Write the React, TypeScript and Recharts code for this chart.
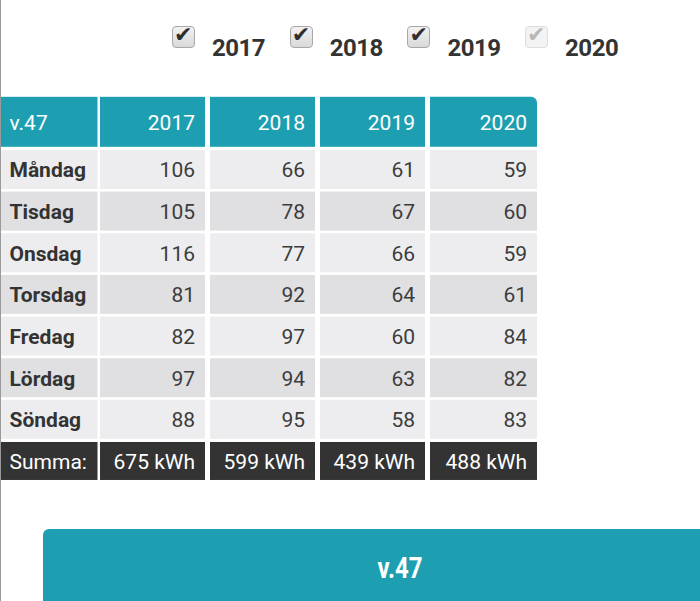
import React from 'react';
import { ScatterChart, Scatter, XAxis, YAxis, Legend } from 'recharts';

const WEEK = 'v.47';
const YEARS = ['2017', '2018', '2019', '2020'];
const YEAR_ENABLED = [true, true, true, false];
const DAYS = ['Måndag', 'Tisdag', 'Onsdag', 'Torsdag', 'Fredag', 'Lördag', 'Söndag'];
const V2017 = [106, 105, 116, 81, 82, 97, 88];
const V2018 = [66, 78, 77, 92, 97, 94, 95];
const V2019 = [61, 67, 66, 64, 60, 63, 58];
const V2020 = [59, 60, 59, 61, 84, 82, 83];
const SUM_LABEL = 'Summa:';
const UNIT = 'kWh';

const SERIES_VALUES = [V2017, V2018, V2019, V2020];

const TEAL = '#1e9fb1';
const DARK = '#333333';
const ROW_LIGHT = '#ededef';
const ROW_DARK = '#e0e0e2';
const FONT = 'Roboto, "Open Sans", sans-serif';

const COLS = ['label', ...YEARS];

const headerData = COLS.map((c, i) => ({
  col: c,
  row: 'head',
  kind: 'head',
  text: c === 'label' ? WEEK : c,
  last: i === COLS.length - 1,
}));

const labelData = [
  ...DAYS.map((d, i) => ({ col: 'label', row: d, kind: 'day', text: d, idx: i })),
  { col: 'label', row: 'sum', kind: 'sum', text: SUM_LABEL, idx: 0 },
];

const yearData = YEARS.map((y, yi) => {
  const vals = SERIES_VALUES[yi];
  const total = vals.reduce((a, b) => a + b, 0);
  return [
    ...DAYS.map((d, i) => ({ col: y, row: d, kind: 'day', text: String(vals[i]), idx: i })),
    { col: y, row: 'sum', kind: 'sum', text: `${total} ${UNIT}`, idx: 0 },
  ];
});

function CellShape(props: any) {
  const { cx, cy, payload: p } = props;
  if (cx == null || cy == null || !p) return null;
  const isLabel = p.col === 'label';
  const isLast = p.col === YEARS[YEARS.length - 1];
  const w = isLabel ? 97 : isLast ? 107 : 105;
  const x0 = isLabel ? cx - 42 : cx - 52.5;
  let y0: number, h: number, fill: string, color: string;
  let weight = 400;
  if (p.kind === 'head') {
    y0 = cy - 31; h = 50; fill = TEAL; color = '#ffffff';
  } else if (p.kind === 'sum') {
    y0 = cy - 19; h = 38; fill = DARK; color = '#ffffff';
  } else {
    y0 = cy - 19.5; h = 39; fill = p.idx % 2 === 0 ? ROW_LIGHT : ROW_DARK;
    color = isLabel ? '#333333' : '#3c3c3c';
    if (isLabel) weight = 700;
  }
  const textY = p.kind === 'head' ? cy - 5 : cy + 1;
  const tx = isLabel ? x0 + 9 : x0 + w - 10;
  const bg = p.last ? (
    <path d={`M${x0},${y0} H${x0 + w - 6} A6,6 0 0 1 ${x0 + w},${y0 + 6} V${y0 + h} H${x0} Z`} fill={fill} />
  ) : (
    <rect x={x0} y={y0} width={w} height={h} fill={fill} />
  );
  return (
    <g>
      {bg}
      <text
        x={tx}
        y={textY}
        textAnchor={isLabel ? 'start' : 'end'}
        dominantBaseline="central"
        fill={color}
        fontSize={21}
        fontWeight={weight}
        fontFamily={FONT}
      >
        {p.text}
      </text>
    </g>
  );
}

function CheckLegend(props: any) {
  const payload = (props.payload || []).filter((e: any) => YEARS.includes(String(e.value)));
  return (
    <div style={{ position: 'relative', width: 700, height: 60 }}>
      {payload.map((e: any) => {
        const i = YEARS.indexOf(String(e.value));
        const enabled = YEAR_ENABLED[i];
        const left = 172 + i * 117.7;
        return (
          <div key={e.value}>
            <div
              style={{
                position: 'absolute',
                left,
                top: 26,
                width: 21,
                height: 20,
                border: `1px solid ${enabled ? '#a8a8a8' : '#dddddd'}`,
                borderRadius: 4,
                background: enabled ? 'linear-gradient(#f2f2f2, #d9d9d9)' : '#f3f3f3',
                boxSizing: 'content-box',
              }}
            >
              <span
                style={{
                  position: 'absolute',
                  left: 1,
                  top: -5,
                  fontSize: 22,
                  fontFamily: '"DejaVu Sans", sans-serif',
                  color: enabled ? '#2e2e2e' : '#b8b8b8',
                  lineHeight: '26px',
                }}
              >
                ✔
              </span>
            </div>
            <span
              style={{
                position: 'absolute',
                left: left + 40,
                top: 33,
                fontSize: 24,
                fontWeight: 700,
                fontFamily: FONT,
                color: '#333333',
                lineHeight: '30px',
                letterSpacing: -0.5,
              }}
            >
              {e.value}
            </span>
          </div>
        );
      })}
    </div>
  );
}

export default function App() {
  return (
    <div style={{ position: 'relative', width: 700, height: 601, overflow: 'hidden', background: '#ffffff' }}>
      <style>{'body{margin:0;}'}</style>
      <div style={{ position: 'absolute', left: 0, top: 0, width: 1, height: 601, background: '#9a9a9a', zIndex: 2 }} />
      <ScatterChart width={700} height={601} margin={{ top: 47, right: 162.5, bottom: 119.2, left: -12.5 }}>
        <XAxis type="category" dataKey="col" hide allowDuplicatedCategory={false} />
        <YAxis type="category" dataKey="row" hide allowDuplicatedCategory={false} reversed />
        <Legend verticalAlign="top" align="left" content={<CheckLegend />} wrapperStyle={{ top: 0, left: 0, width: 700, height: 60 }} />
        <Scatter name="head" data={headerData} shape={<CellShape />} legendType="none" isAnimationActive={false} fill={TEAL} />
        <Scatter name="label" data={labelData} shape={<CellShape />} legendType="none" isAnimationActive={false} fill={TEAL} />
        {YEARS.map((y, i) => (
          <Scatter key={y} name={y} data={yearData[i]} shape={<CellShape />} isAnimationActive={false} fill={TEAL} />
        ))}
      </ScatterChart>
      <div
        style={{
          position: 'absolute',
          left: 43,
          top: 529,
          width: 714,
          height: 80,
          background: TEAL,
          borderTopLeftRadius: 6,
          color: '#ffffff',
          textAlign: 'center',
          lineHeight: '78px',
        }}
      >
        <span
          style={{
            display: 'inline-block',
            fontFamily: FONT,
            fontWeight: 700,
            fontSize: 30,
            transform: 'scaleX(0.8)',
          }}
        >
          {WEEK}
        </span>
      </div>
    </div>
  );
}
